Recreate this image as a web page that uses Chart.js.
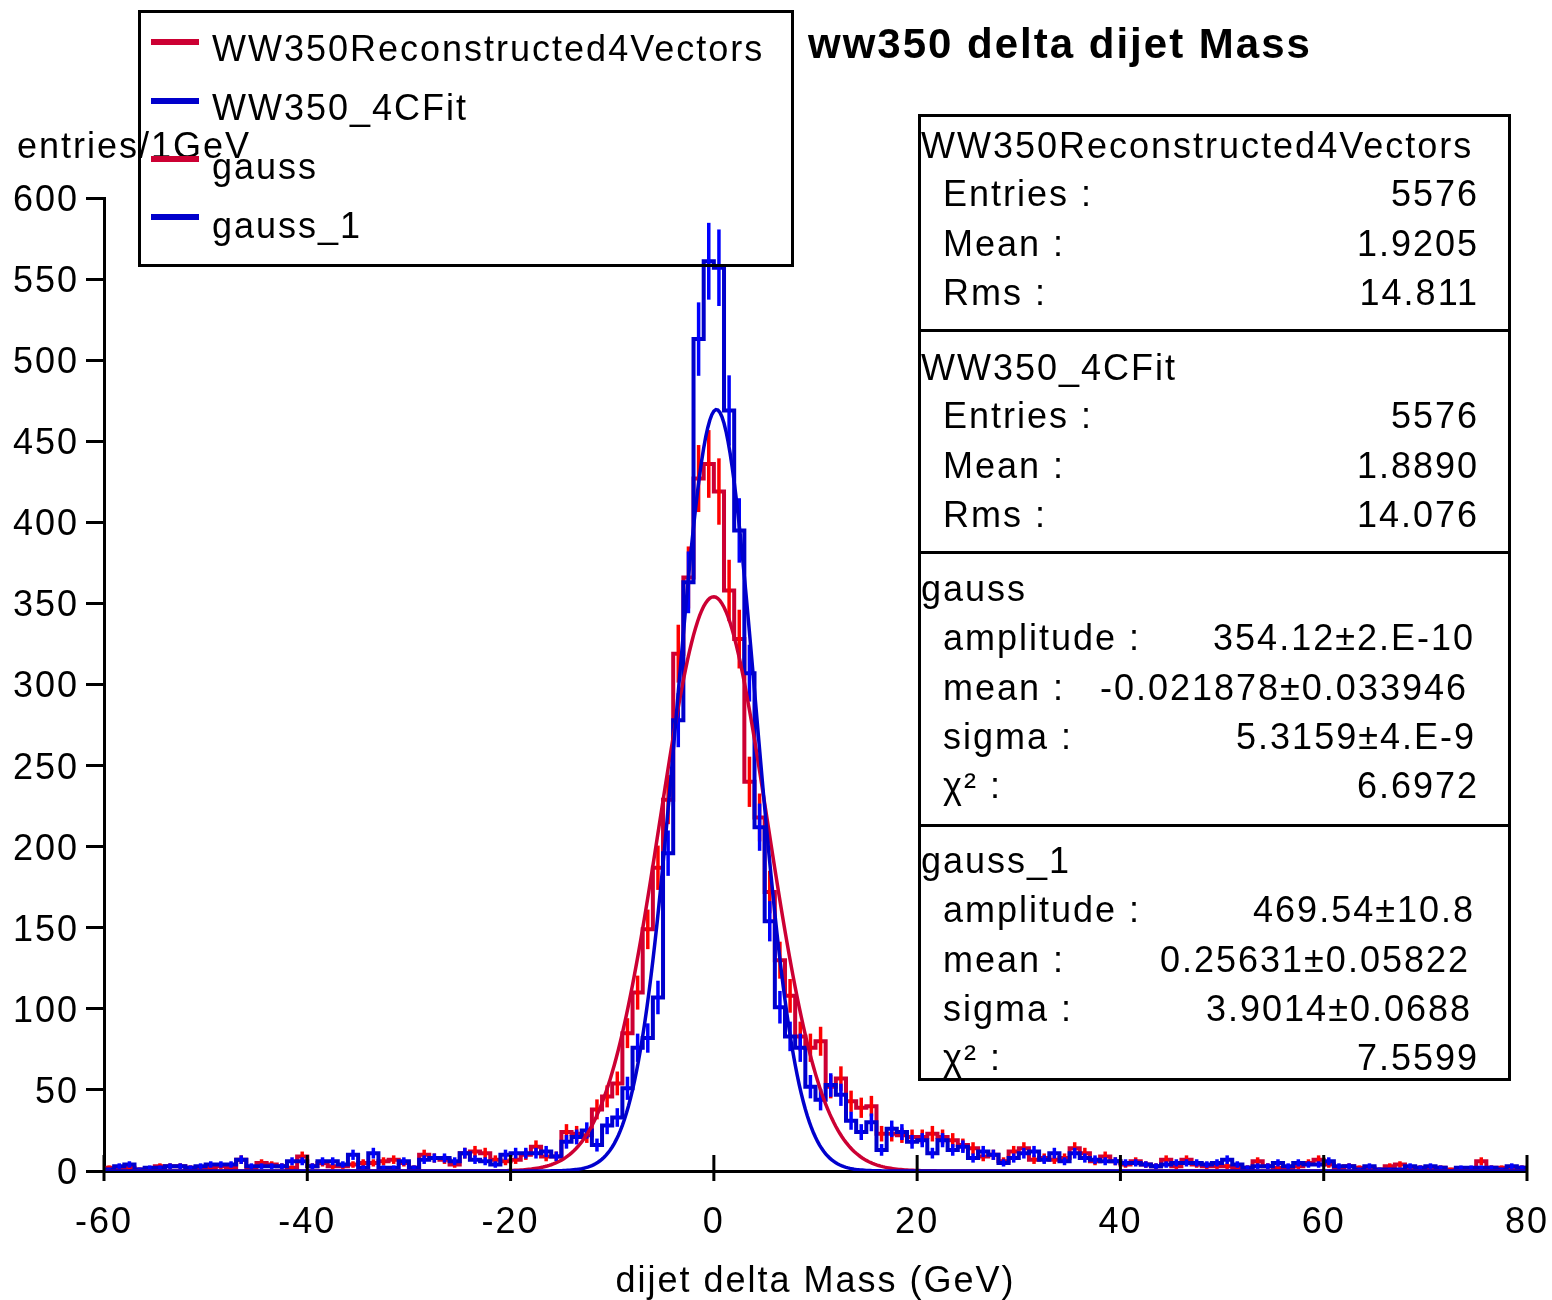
<!DOCTYPE html>
<html>
<head>
<meta charset="utf-8">
<title>ww350 delta dijet Mass</title>
<script src="https://cdn.jsdelivr.net/npm/chart.js@4.4.1/dist/chart.umd.min.js"></script>
<style>
  html, body { margin: 0; padding: 0; background: #fff; }
  #wrap { position: relative; width: 1552px; height: 1300px; overflow: hidden;
          font-family: "Liberation Sans", Arial, Helvetica, sans-serif; letter-spacing: 2px; color: #000; }
  #c { position: absolute; left: 0; top: 0; }
  .t { position: absolute; white-space: nowrap; font-size: 36px; line-height: 36px; }
  .title { position: absolute; white-space: nowrap; font-size: 42px; line-height: 42px; font-weight: bold; }
  .box { position: absolute; box-sizing: border-box; border: 3px solid #000; }
  .rule { position: absolute; height: 3px; background: #000; }
  .swatch { position: absolute; width: 48px; height: 6px; }
</style>
</head>
<body>
<div id="wrap">
  <canvas id="c" width="1552" height="1300"></canvas>
</div>
<script>
// Histogram binning: 1 GeV bins from -60 to 80 GeV
const BIN_LOW = -60;
const BIN_HIGH = 80;
const BIN_WIDTH = 1;

// Entries per bin, first value is the bin [-60,-59)
const recoCounts = [
  2, 2, 2, 1, 1, 3, 3, 3, 2, 2,
  2, 3, 2, 7, 2, 5, 4, 3, 2, 9,
  3, 5, 3, 3, 4, 5, 5, 6, 7, 5,
  2, 10, 8, 7, 4, 11, 12, 11, 7, 6,
  7, 10, 15, 9, 9, 24, 23, 22, 38, 46,
  54, 85, 110, 149, 187, 229, 319, 366, 427, 436,
  419, 358, 328, 240, 218, 172, 130, 108, 83, 76,
  80, 52, 57, 43, 39, 40, 23, 23, 22, 21,
  21, 23, 21, 19, 16, 14, 9, 10, 6, 12,
  14, 7, 8, 7, 8, 14, 11, 6, 9, 6,
  4, 6, 4, 3, 7, 3, 7, 4, 3, 3,
  3, 2, 2, 6, 3, 2, 2, 3, 5, 7,
  4, 2, 3, 2, 2, 1, 3, 4, 2, 2,
  2, 2, 1, 1, 1, 6, 2, 2, 2, 2
];
const fitCounts = [
  1, 3, 4, 1, 2, 2, 3, 3, 2, 3,
  4, 4, 4, 7, 3, 3, 3, 3, 6, 6,
  3, 6, 6, 4, 10, 2, 11, 2, 2, 6,
  2, 7, 8, 8, 6, 11, 7, 6, 4, 10,
  11, 11, 11, 12, 9, 18, 21, 25, 16, 28,
  33, 51, 76, 82, 107, 196, 278, 363, 513, 561,
  557, 469, 395, 307, 212, 154, 101, 83, 76, 52,
  44, 53, 47, 31, 24, 30, 13, 26, 24, 18,
  19, 11, 19, 13, 15, 8, 12, 10, 5, 8,
  11, 12, 7, 11, 6, 11, 8, 7, 6, 6,
  5, 5, 4, 3, 4, 5, 5, 5, 4, 5,
  7, 4, 2, 3, 3, 5, 3, 5, 4, 4,
  6, 3, 3, 1, 3, 1, 1, 1, 3, 2,
  3, 2, 0, 2, 2, 2, 2, 1, 3, 2
];

// Gaussian fit parameters
const fitNames = ['gauss', 'gauss_1'];
const fitAmplitude = [354.12, 469.54];
const fitMean = [-0.021878, 0.25631];
const fitSigma = [5.3159, 3.9014];
const fitAmplitudeText = ['354.12\u00b12.E-10', '469.54\u00b110.8'];
const fitMeanText = ['-0.021878\u00b10.033946', '0.25631\u00b10.05822'];
const fitSigmaText = ['5.3159\u00b14.E-9', '3.9014\u00b10.0688'];
const fitChi2Text = ['6.6972', '7.5599'];

// Histogram summaries
const histNames = ['WW350Reconstructed4Vectors', 'WW350_4CFit'];
const histEntries = ['5576', '5576'];
const histMean = ['1.9205', '1.8890'];
const histRms = ['14.811', '14.076'];

// Axis ticks
const xTicks = [-60, -40, -20, 0, 20, 40, 60, 80];
const yTicks = [0, 50, 100, 150, 200, 250, 300, 350, 400, 450, 500, 550, 600];

const RED_LINE = '#cc0033';
const RED_ERR = '#ff0000';
const BLUE_LINE = '#0000cc';
const BLUE_ERR = '#0000ff';
const FONT = '"Liberation Sans", Arial, Helvetica, sans-serif';

// Step outline: one point at each bin's low edge, plus the closing edge
function stepPoints(counts) {
  const pts = counts.map((n, i) => ({ x: BIN_LOW + i * BIN_WIDTH, y: n }));
  pts.push({ x: BIN_HIGH, y: counts[counts.length - 1] });
  return pts;
}

function gaussCurve(k) {
  const pts = [];
  for (let x = BIN_LOW; x <= BIN_HIGH + 1e-9; x += 0.2) {
    const z = (x - fitMean[k]) / fitSigma[k];
    pts.push({ x: x, y: fitAmplitude[k] * Math.exp(-0.5 * z * z) });
  }
  return pts;
}

// Poisson error bars at bin centres, drawn right after their histogram
const errorBars = {
  id: 'errorBars',
  afterDatasetDraw(chart, args) {
    const ds = chart.data.datasets[args.index];
    if (!ds.counts) return;
    const xs = chart.scales.x, ys = chart.scales.y, ctx = chart.ctx;
    ctx.save();
    ctx.strokeStyle = ds.errorColor;
    ctx.lineWidth = 3.5;
    ds.counts.forEach((n, i) => {
      if (n <= 0) return;
      const e = Math.sqrt(n);
      const px = xs.getPixelForValue(BIN_LOW + (i + 0.5) * BIN_WIDTH);
      ctx.beginPath();
      ctx.moveTo(px, ys.getPixelForValue(n + e));
      ctx.lineTo(px, ys.getPixelForValue(Math.max(0, n - e)));
      ctx.stroke();
    });
    ctx.restore();
  }
};

// Tick marks that straddle the x axis line
const xTickMarks = {
  id: 'xTickMarks',
  afterDraw(chart) {
    const s = chart.scales.x, ctx = chart.ctx;
    ctx.save();
    ctx.strokeStyle = '#000';
    ctx.lineWidth = 3;
    s.ticks.forEach(t => {
      const px = s.getPixelForValue(t.value);
      ctx.beginPath();
      ctx.moveTo(px, s.top - 16);
      ctx.lineTo(px, s.top + 10);
      ctx.stroke();
    });
    ctx.restore();
  }
};

const spacing = {
  id: 'spacing',
  beforeLayout(chart) { chart.ctx.letterSpacing = '2px'; },
  beforeDraw(chart) { chart.ctx.letterSpacing = '2px'; }
};

new Chart(document.getElementById('c'), {
  type: 'line',
  data: {
    datasets: [
      { label: fitNames[1], data: gaussCurve(1), borderColor: BLUE_LINE, borderWidth: 3.5, pointRadius: 0, tension: 0, fill: false },
      { label: fitNames[0], data: gaussCurve(0), borderColor: RED_LINE, borderWidth: 3.5, pointRadius: 0, tension: 0, fill: false },
      { label: histNames[1], data: stepPoints(fitCounts), counts: fitCounts, errorColor: BLUE_ERR,
        borderColor: BLUE_LINE, borderWidth: 4, stepped: true, pointRadius: 0, fill: false },
      { label: histNames[0], data: stepPoints(recoCounts), counts: recoCounts, errorColor: RED_ERR,
        borderColor: RED_LINE, borderWidth: 4, stepped: true, pointRadius: 0, fill: false }
    ]
  },
  options: {
    responsive: false,
    animation: false,
    devicePixelRatio: 1,
    layout: { padding: { top: 198, right: 0, left: 0, bottom: 0 } },
    plugins: { legend: { display: false }, tooltip: { enabled: false }, title: { display: false } },
    scales: {
      x: {
        type: 'linear', min: BIN_LOW, max: BIN_HIGH,
        afterBuildTicks: s => { s.ticks = xTicks.map(v => ({ value: v })); },
        ticks: { font: { family: FONT, size: 36 }, color: '#000', padding: 30, maxRotation: 0, autoSkip: false },
        grid: { display: true, drawOnChartArea: false, drawTicks: false },
        border: { color: '#000', width: 3 },
        title: { display: true, text: 'dijet delta Mass (GeV)', color: '#000',
                 font: { family: FONT, size: 36 }, padding: { top: 0, bottom: -4 } },
        afterFit: s => { s.height = 129; s.paddingLeft = 0; s.paddingRight = 25; }
      },
      y: {
        type: 'linear', min: 0, max: 600,
        afterBuildTicks: s => { s.ticks = yTicks.map(v => ({ value: v })); },
        ticks: { font: { family: FONT, size: 36 }, color: '#000', padding: 7, labelOffset: 3 },
        grid: { display: true, drawOnChartArea: false, drawTicks: true, tickLength: 18, tickWidth: 3, tickColor: '#000' },
        border: { color: '#000', width: 3 },
        afterFit: s => { s.width = 104; s.paddingTop = 0; s.paddingBottom = 0; }
      }
    }
  },
  plugins: [spacing, errorBars, xTickMarks]
});

// Text overlays: title, axis caption, legend and statistics boxes
const wrap = document.getElementById('wrap');
function add(cls, text, style) {
  const d = document.createElement('div');
  d.className = cls;
  if (text) d.textContent = text;
  Object.assign(d.style, style);
  wrap.appendChild(d);
  return d;
}
// baseline -> top for 36px text with 36px line height
const top36 = b => (b - 30.5) + 'px';

add('title', 'ww350 delta dijet Mass', { left: '808px', top: (59 - 35.6) + 'px' });
add('t', 'entries/1GeV', { left: '17px', top: top36(158) });

// Legend
add('box', '', { left: '138px', top: '10px', width: '656px', height: '257px' });
const legendLabels = [histNames[0], histNames[1], fitNames[0], fitNames[1]];
const legendColors = [RED_LINE, BLUE_LINE, RED_LINE, BLUE_LINE];
const legendBaselines = [61, 120, 179, 238];
const legendSwatchY = [39, 98, 156, 214];
legendLabels.forEach((txt, i) => {
  add('swatch', '', { left: '151px', top: legendSwatchY[i] + 'px', background: legendColors[i] });
  add('t', txt, { left: '212px', top: top36(legendBaselines[i]) });
});

// Statistics box
add('box', '', { left: '918px', top: '114px', width: '593px', height: '967px' });
[329, 551, 824].forEach(y => add('rule', '', { left: '918px', top: y + 'px', width: '593px' }));

function statRow(label, value, baseline, rightEdge) {
  add('t', label, { left: '943px', top: top36(baseline) });
  add('t', value, { right: (1552 - rightEdge) + 'px', top: top36(baseline) });
}
const histHeaderBase = [158, 380];
histNames.forEach((name, k) => {
  const b = histHeaderBase[k];
  add('t', name, { left: '921px', top: top36(b) });
  statRow('Entries :', histEntries[k], b + 48, 1479);
  statRow('Mean :', histMean[k], b + 98, 1479);
  statRow('Rms :', histRms[k], b + 147, 1479);
});
const fitHeaderBase = [601, 873];
const fitRight = [[1475, 1468, 1476, 1479], [1475, 1470, 1472, 1479]];
fitNames.forEach((name, k) => {
  const b = fitHeaderBase[k];
  add('t', name, { left: '921px', top: top36(b) });
  statRow('amplitude :', fitAmplitudeText[k], b + 49, fitRight[k][0]);
  statRow('mean :', fitMeanText[k], b + 99, fitRight[k][1]);
  statRow('sigma :', fitSigmaText[k], b + 148, fitRight[k][2]);
  statRow('\u03c7\u00b2 :', fitChi2Text[k], b + 197, fitRight[k][3]);
});
</script>
</body>
</html>
